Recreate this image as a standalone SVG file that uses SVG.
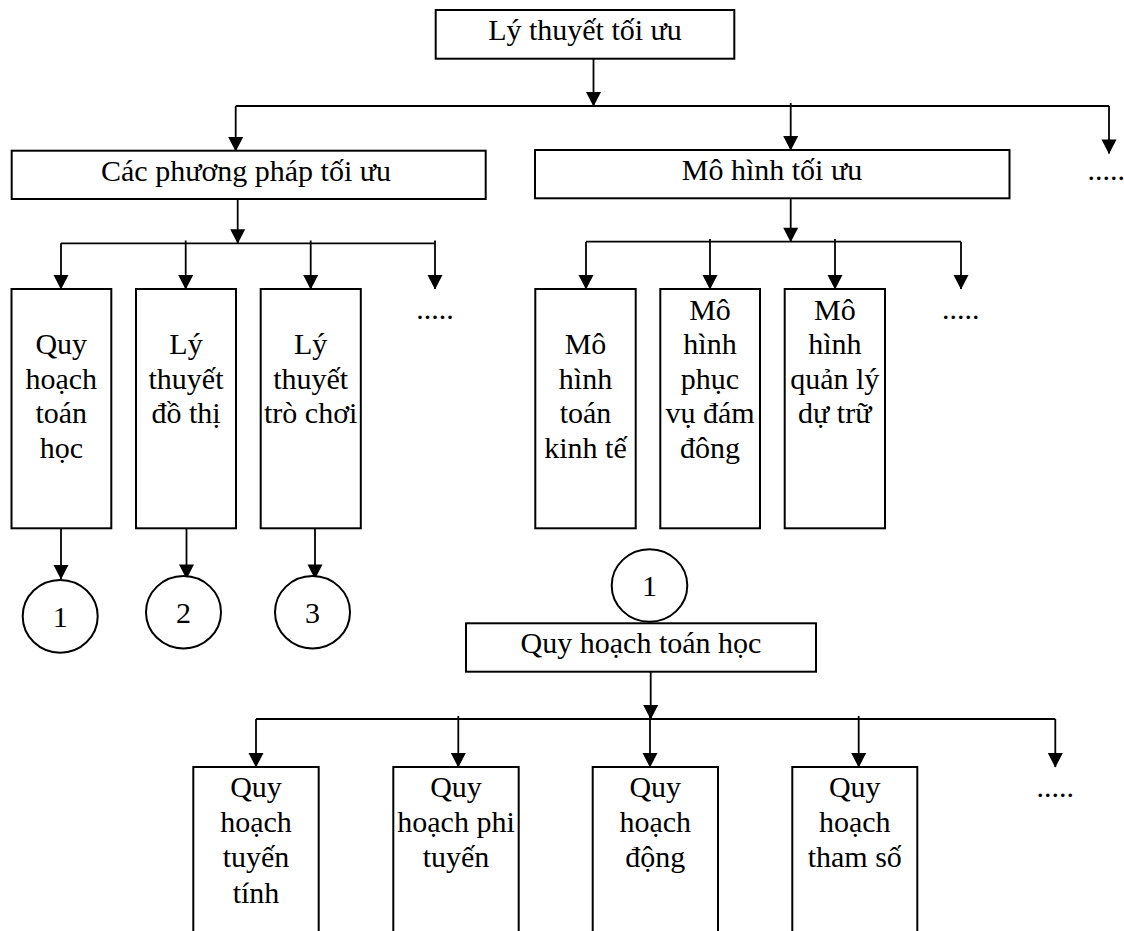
<svg xmlns="http://www.w3.org/2000/svg" width="1124" height="931" viewBox="0 0 1124 931">
<defs>
<marker id="ah" markerWidth="16" markerHeight="17" refX="14" refY="8" orient="auto" markerUnits="userSpaceOnUse" overflow="visible">
<path d="M0,0.5 L14.5,8 L0,15.5 z" fill="#000"/>
</marker>
<style>
.box{fill:#fff;stroke:#000;stroke-width:2}
.ln{fill:none;stroke:#000;stroke-width:1.8}
.ar{fill:none;stroke:#000;stroke-width:1.8;marker-end:url(#ah)}
text{font-family:"Liberation Serif","Times New Roman",serif;font-size:30px;fill:#000;text-anchor:middle}
.dots{text-anchor:start}
</style>
</defs>
<rect width="1124" height="931" fill="#fff"/>

<g id="connectors">
<line class="ar" x1="593.5" y1="59" x2="593.5" y2="106"/>
<line class="ln" x1="235.7" y1="106" x2="1109" y2="106"/>
<line class="ar" x1="235.7" y1="106" x2="235.7" y2="151"/>
<line class="ar" x1="790.7" y1="103" x2="790.7" y2="150"/>
<line class="ar" x1="1109" y1="106" x2="1109" y2="153.5"/>

<line class="ar" x1="237.7" y1="199" x2="237.7" y2="243.3"/>
<line class="ln" x1="61" y1="243.3" x2="435" y2="243.3"/>
<line class="ar" x1="61" y1="243.3" x2="61" y2="289"/>
<line class="ar" x1="185.7" y1="240.5" x2="185.7" y2="289"/>
<line class="ar" x1="310.7" y1="240.5" x2="310.7" y2="289"/>
<line class="ar" x1="435" y1="240.5" x2="435" y2="289"/>

<line class="ar" x1="790.7" y1="195" x2="790.7" y2="241.7"/>
<line class="ln" x1="586" y1="241.7" x2="961" y2="241.7"/>
<line class="ar" x1="586" y1="241.7" x2="586" y2="289"/>
<line class="ar" x1="710" y1="239" x2="710" y2="289"/>
<line class="ar" x1="835" y1="239" x2="835" y2="289"/>
<line class="ar" x1="961" y1="241.7" x2="961" y2="289"/>

<line class="ar" x1="61" y1="528.3" x2="61" y2="579"/>
<line class="ar" x1="186.5" y1="528.3" x2="186.5" y2="578.5"/>
<line class="ar" x1="315" y1="528.3" x2="315" y2="578.5"/>

<line class="ar" x1="650.7" y1="671.7" x2="650.7" y2="719"/>
<line class="ln" x1="256" y1="719" x2="1055.3" y2="719"/>
<line class="ar" x1="256" y1="719" x2="256" y2="767"/>
<line class="ar" x1="458.3" y1="716" x2="458.3" y2="767"/>
<line class="ar" x1="650" y1="716" x2="650" y2="767"/>
<line class="ar" x1="858.7" y1="716" x2="858.7" y2="767"/>
<line class="ar" x1="1055.3" y1="719" x2="1055.3" y2="767"/>
</g>

<g id="n-ly-thuyet-toi-uu">
<rect class="box" x="435.7" y="10" width="298.6" height="48.7"/>
<text x="585" y="40">Lý thuyết tối ưu</text>
</g>

<g id="n-cac-phuong-phap">
<rect class="box" x="11.7" y="150.7" width="474" height="48.3"/>
<text x="246" y="180.7">Các phương pháp tối ưu</text>
</g>

<g id="n-mo-hinh-toi-uu">
<rect class="box" x="535" y="150" width="474.5" height="48.3"/>
<text x="772" y="180">Mô hình tối ưu</text>
</g>

<g id="n-dots-top">
<text class="dots" x="1087.5" y="180">.....</text>
</g>

<g id="n-qh-toan-hoc">
<rect class="box" x="11.5" y="289" width="99.8" height="239.3"/>
<text x="61.3" y="354">Quy</text>
<text x="61.3" y="388.5">hoạch</text>
<text x="61.3" y="423">toán</text>
<text x="61.3" y="457.5">học</text>
</g>

<g id="n-ly-thuyet-do-thi">
<rect class="box" x="136" y="289" width="100" height="239.3"/>
<text x="186" y="354">Lý</text>
<text x="186" y="388.5">thuyết</text>
<text x="186" y="423">đồ thị</text>
</g>

<g id="n-ly-thuyet-tro-choi">
<rect class="box" x="260.7" y="289" width="100.1" height="239.3"/>
<text x="310.7" y="354">Lý</text>
<text x="310.7" y="388.5">thuyết</text>
<text x="310.7" y="423">trò chơi</text>
</g>

<g id="n-dots-left">
<text class="dots" x="416.3" y="319">.....</text>
</g>

<g id="n-mh-toan-kinh-te">
<rect class="box" x="535.3" y="289" width="100.4" height="239.3"/>
<text x="585.5" y="354">Mô</text>
<text x="585.5" y="388.5">hình</text>
<text x="585.5" y="423">toán</text>
<text x="585.5" y="457.5">kinh tế</text>
</g>

<g id="n-mh-phuc-vu">
<rect class="box" x="660.3" y="289" width="99.7" height="239.3"/>
<text x="710" y="319.5">Mô</text>
<text x="710" y="354">hình</text>
<text x="710" y="388.5">phục</text>
<text x="710" y="423">vụ đám</text>
<text x="710" y="457.5">đông</text>
</g>

<g id="n-mh-quan-ly">
<rect class="box" x="784.7" y="289" width="100.3" height="239.3"/>
<text x="834.8" y="319.5">Mô</text>
<text x="834.8" y="354">hình</text>
<text x="834.8" y="388.5">quản lý</text>
<text x="834.8" y="423">dự trữ</text>
</g>

<g id="n-dots-right">
<text class="dots" x="942" y="319">.....</text>
</g>

<g id="n-circle-1">
<ellipse class="box" cx="60.2" cy="616.3" rx="37.5" ry="36.4"/>
<text x="60.2" y="627">1</text>
</g>

<g id="n-circle-2">
<ellipse class="box" cx="183.5" cy="612.2" rx="37.5" ry="36.2"/>
<text x="183.5" y="623.3">2</text>
</g>

<g id="n-circle-3">
<ellipse class="box" cx="312.5" cy="612.2" rx="37.5" ry="36.2"/>
<text x="312.5" y="623.3">3</text>
</g>

<g id="n-circle-1b">
<ellipse class="box" cx="649.5" cy="585.5" rx="37.8" ry="36.2"/>
<text x="649.5" y="595.5">1</text>
</g>

<g id="n-qh-toan-hoc-2">
<rect class="box" x="466" y="623.3" width="350" height="48.4"/>
<text x="641" y="652.7">Quy hoạch toán học</text>
</g>

<g id="n-qh-tuyen-tinh">
<rect class="box" x="193.3" y="767" width="125.4" height="180"/>
<text x="256" y="797">Quy</text>
<text x="256" y="832">hoạch</text>
<text x="256" y="867">tuyến</text>
<text x="256" y="902.5">tính</text>
</g>

<g id="n-qh-phi-tuyen">
<rect class="box" x="393.3" y="767" width="125.4" height="180"/>
<text x="456" y="797">Quy</text>
<text x="456" y="832">hoạch phi</text>
<text x="456" y="867">tuyến</text>
</g>

<g id="n-qh-dong">
<rect class="box" x="592.7" y="767" width="125.3" height="180"/>
<text x="655.3" y="797">Quy</text>
<text x="655.3" y="832">hoạch</text>
<text x="655.3" y="867">động</text>
</g>

<g id="n-qh-tham-so">
<rect class="box" x="792.3" y="767" width="125" height="180"/>
<text x="854.8" y="797">Quy</text>
<text x="854.8" y="832">hoạch</text>
<text x="854.8" y="867">tham số</text>
</g>

<g id="n-dots-bottom">
<text class="dots" x="1036.5" y="797">.....</text>
</g>
</svg>
